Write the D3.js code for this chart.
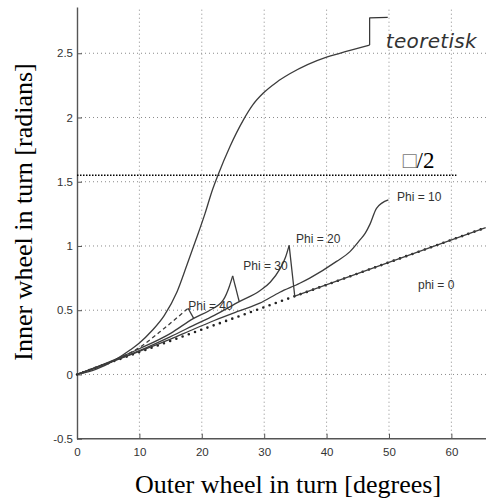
<!DOCTYPE html>
<html>
<head>
<meta charset="utf-8">
<script src="https://cdn.jsdelivr.net/npm/d3@7"></script>
<style>
  html, body { margin: 0; padding: 0; background: #fff; }
  svg { display: block; }
</style>
</head>
<body>
<svg id="chart" width="486" height="504"></svg>
<script>
// ---------- data ----------
const xTicks = [0, 10, 20, 30, 40, 50, 60];
const xTickLabels = ["0", "10", "20", "30", "40", "50", "60"];
const yTicks = [-0.5, 0, 0.5, 1, 1.5, 2, 2.5];
const yTickLabels = ["-0.5", "0", "0.5", "1", "1.5", "2", "2.5"];

// theoretical curve ("teoretisk")
const theoryX = [0, 3, 6, 8.5, 10, 12, 14, 16, 17.6, 19, 20.5, 21.7, 22.6, 24.5, 26.65, 28.2, 29.86, 32, 34.1, 40, 42.1, 46.9];
const theoryY = [0, 0.04, 0.11, 0.19, 0.245, 0.34, 0.46, 0.64, 0.85, 1.04, 1.25, 1.436, 1.553, 1.773, 1.98, 2.1, 2.19, 2.275, 2.34, 2.47, 2.5, 2.564];

// phi = 0 (dotted)
const phi0X = [0, 65.5];
const phi0Y = [0, 1.143];

// phi = 10 (solid)
const phi10X = [0, 5, 10, 15, 18.1, 22, 26, 29.3, 32.5, 35.7, 37.3, 41.6, 43.75, 45.35, 46.2, 46.96, 48.0, 49.9];
const phi10Y = [0, 0.088, 0.18, 0.275, 0.34, 0.42, 0.495, 0.555, 0.64, 0.71, 0.75, 0.88, 0.956, 1.047, 1.1, 1.17, 1.293, 1.358];

// phi = 20 rising part, then drop onto phi = 0 and tail
const phi20RiseX = [0, 5, 10, 15, 18.6, 22, 26.0, 29.3, 31, 32.5, 33.4, 34.0];
const phi20RiseY = [0, 0.09, 0.185, 0.295, 0.38, 0.46, 0.567, 0.652, 0.72, 0.82, 0.91, 1.005];
const phi20TailX = [34.0, 34.9, 65.5];
const phi20TailY = [1.005, 0.609, 1.143];

// phi = 30 rising part, then drop onto phi = 20
const phi30RiseX = [0, 5, 10, 15, 18.7, 21.3, 23.45, 24.4, 24.95];
const phi30RiseY = [0, 0.095, 0.2, 0.32, 0.437, 0.5, 0.58, 0.683, 0.767];
const phi30TailX = [24.95, 26.0];
const phi30TailY = [0.767, 0.567];

// phi = 40 dashed rising part, then solid drop onto phi = 30
const phi40RiseX = [0, 5, 10, 14, 17.8];
const phi40RiseY = [0, 0.09, 0.21, 0.36, 0.515];
const phi40TailX = [17.8, 18.7];
const phi40TailY = [0.515, 0.437];

// pi/2 reference line
const halfPiX = [0, 60.8];
const halfPiY = [1.55, 1.55];

// annotation bracket next to the end of the theoretical curve
const bracketX = [46.9, 46.9, 49.8];
const bracketY = [2.564, 2.775, 2.78];

// labels
const labelText = ["Phi = 40", "Phi = 30", "Phi = 20", "Phi = 10", "phi = 0"];
const labelX = [17.84, 26.65, 35.1, 51.3, 54.65];
const labelY = [0.502, 0.813, 1.021, 1.35, 0.663];

// ---------- drawing ----------
const svg = d3.select("#chart");
const x = d3.scaleLinear().domain([0, 65.5]).range([77, 485.7]);
const y = d3.scaleLinear().domain([-0.5, 2.86]).range([438.7, 7]);

const zip = (xs, ys) => xs.map((v, i) => [v, ys[i]]);
const lineSmooth = d3.line().x(d => x(d[0])).y(d => y(d[1])).curve(d3.curveMonotoneX);
const lineStraight = d3.line().x(d => x(d[0])).y(d => y(d[1]));

const [x0, x1] = x.range();
const [y0, y1] = y.range();

// grid
const grid = svg.append("g").attr("fill", "none").attr("stroke", "#8a8a8a")
  .attr("stroke-width", 1).attr("stroke-dasharray", "1,3");
grid.selectAll("line.v").data(xTicks.filter(t => t > 0)).join("line")
  .attr("x1", d => x(d)).attr("x2", d => x(d)).attr("y1", y0).attr("y2", y1);
grid.selectAll("line.h").data(yTicks.filter(t => t > -0.5)).join("line")
  .attr("x1", x0).attr("x2", 486).attr("y1", d => y(d)).attr("y2", d => y(d));

// axes
const xAxis = d3.axisBottom(x).tickValues(xTicks)
  .tickFormat((d, i) => xTickLabels[i]).tickSizeInner(-5).tickSizeOuter(0).tickPadding(9);
const yAxis = d3.axisLeft(y).tickValues(yTicks)
  .tickFormat((d, i) => yTickLabels[i]).tickSizeInner(-5).tickSizeOuter(0).tickPadding(4);

const gx = svg.append("g").attr("transform", `translate(0,${y0})`).call(xAxis);
const gy = svg.append("g").attr("transform", `translate(${x0},0)`).call(yAxis);
[gx, gy].forEach(g => {
  g.select(".domain").attr("stroke", "#555").attr("stroke-width", 1.4);
  g.selectAll(".tick line").attr("stroke", "#555").attr("stroke-width", 1);
  g.selectAll(".tick text").attr("fill", "#333")
    .style("font-family", "'Liberation Sans', Arial, sans-serif").style("font-size", "11.5px");
});
gx.select(".domain").attr("d", `M${x0},0H486`);

// pi/2 dotted line
svg.append("path").attr("d", lineStraight(zip(halfPiX, halfPiY)))
  .attr("fill", "none").attr("stroke", "#000").attr("stroke-width", 1.4)
  .attr("stroke-dasharray", "1.5,1.5");

const curveColor = "#3c3c3c";
const drawPath = (d, gen, extra) => {
  const p = svg.append("path").attr("d", gen(d)).attr("fill", "none")
    .attr("stroke", curveColor).attr("stroke-width", 1.3).attr("stroke-linejoin", "round");
  if (extra) extra(p);
  return p;
};

// phi = 0 dotted (bold dots)
drawPath(zip(phi0X, phi0Y), lineStraight, p => p.attr("stroke", "#222").attr("stroke-width", 2.6)
  .attr("stroke-linecap", "round").attr("stroke-dasharray", "0,6.6"));

// theoretical
drawPath(zip(theoryX, theoryY), lineSmooth);
// phi = 10
drawPath(zip(phi10X, phi10Y), lineSmooth);
// phi = 20
drawPath(zip(phi20RiseX, phi20RiseY), lineSmooth);
drawPath(zip(phi20TailX, phi20TailY), lineStraight);
// phi = 30
drawPath(zip(phi30RiseX, phi30RiseY), lineSmooth);
drawPath(zip(phi30TailX, phi30TailY), lineStraight);
// phi = 40
drawPath(zip(phi40RiseX, phi40RiseY), lineSmooth, p => p.attr("stroke-dasharray", "4,3"));
drawPath(zip(phi40TailX, phi40TailY), lineStraight);

// bracket annotation
drawPath(zip(bracketX, bracketY), lineStraight, p => p.attr("stroke", "#333").attr("stroke-width", 1.2));

// curve labels
svg.append("g").selectAll("text").data(labelText).join("text")
  .attr("x", (d, i) => x(labelX[i])).attr("y", (d, i) => y(labelY[i]))
  .attr("fill", "#333")
  .style("font-family", "'Liberation Sans', Arial, sans-serif").style("font-size", "12px")
  .text(d => d);

// handwritten annotation
svg.append("text").attr("x", x(49.5)).attr("y", y(2.54))
  .attr("fill", "#333")
  .style("font-family", "'DejaVu Sans', sans-serif").style("font-size", "20px")
  .style("font-style", "italic").style("letter-spacing", "0.3px")
  .text("teoretisk");

// pi/2 label (box glyph as in the reference)
const hp = svg.append("text").attr("x", x(52.2)).attr("y", y(1.607))
  .attr("fill", "#000")
  .style("font-family", "'Liberation Serif', 'Times New Roman', serif").style("font-size", "23px");
hp.append("tspan").attr("fill", "#777").text("\u25A1");
hp.append("tspan").text("/2");

// axis titles
svg.append("text").attr("x", 288).attr("y", 493).attr("text-anchor", "middle")
  .attr("fill", "#000")
  .style("font-family", "'Liberation Serif', 'Times New Roman', serif").style("font-size", "26px")
  .text("Outer wheel in turn [degrees]");
svg.append("text").attr("transform", "translate(32,212) rotate(-90)").attr("text-anchor", "middle")
  .attr("fill", "#000")
  .style("font-family", "'Liberation Serif', 'Times New Roman', serif").style("font-size", "26px")
  .text("Inner wheel in turn [radians]");
</script>
</body>
</html>
